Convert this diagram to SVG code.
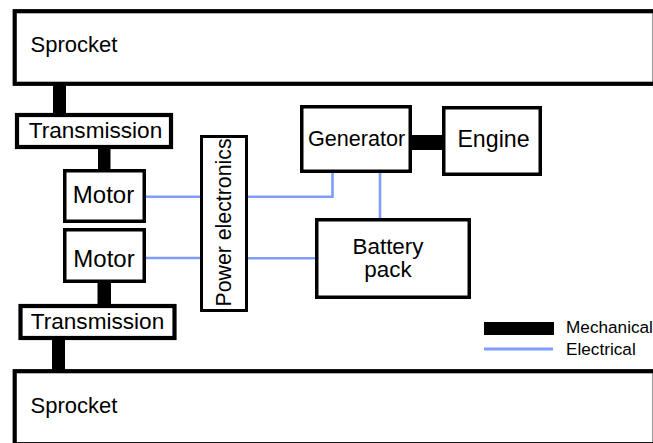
<svg xmlns="http://www.w3.org/2000/svg" width="653" height="443" viewBox="0 0 653 443">
<style>
.box{fill:#fff;stroke:#000;stroke-width:3.5}
.thick{fill:#fff;stroke:#000;stroke-width:4.2}
.mech{fill:#000}
.elec{fill:none;stroke:#7f9cff;stroke-width:2.6}
text{font-family:"Liberation Sans",Arial,sans-serif;fill:#000}
</style>
<rect width="653" height="443" fill="#fff"/>
<g id="connectors">
<rect class="mech" x="53" y="84" width="13" height="30"/>
<rect class="mech" x="98" y="148" width="12.5" height="22"/>
<rect class="mech" x="97.5" y="282" width="13.5" height="23"/>
<rect class="mech" x="52" y="339" width="13" height="31"/>
<rect class="mech" x="411" y="135" width="32" height="15"/>
<polyline class="elec" points="146,196.8 201,196.8"/>
<polyline class="elec" points="146,258 201,258"/>
<polyline class="elec" points="247,196.8 332.5,196.8 332.5,172"/>
<polyline class="elec" points="380,172 380,219"/>
<polyline class="elec" points="247,258.3 317,258.3"/>
</g>
<g id="sprocket-top">
<rect class="thick" x="14.7" y="11.2" width="640" height="72.6"/>
<text x="30.5" y="52" font-size="22">Sprocket</text>
</g>
<g id="transmission-top">
<rect class="thick" x="17" y="115" width="154" height="32"/>
<text x="95.5" y="138.3" font-size="22.6" text-anchor="middle">Transmission</text>
</g>
<g id="motor-top">
<rect class="box" x="64.75" y="170.75" width="79.5" height="50.5"/>
<text x="103.5" y="203.3" font-size="24" text-anchor="middle">Motor</text>
</g>
<g id="motor-bottom">
<rect class="box" x="64.75" y="229.75" width="79.5" height="51.5"/>
<text x="104" y="266.7" font-size="24" text-anchor="middle">Motor</text>
</g>
<g id="transmission-bottom">
<rect class="thick" x="20.5" y="306" width="154" height="32"/>
<text x="97.5" y="329.3" font-size="22.6" text-anchor="middle">Transmission</text>
</g>
<g id="sprocket-bottom">
<rect class="thick" x="14.7" y="371.2" width="640" height="73"/>
<text x="30.5" y="412.5" font-size="22">Sprocket</text>
</g>
<g id="power-electronics">
<rect class="box" x="201.5" y="136.5" width="45" height="174" style="stroke-width:3"/>
<text transform="translate(230.8,222.5) rotate(-90)" font-size="21.3" text-anchor="middle">Power electronics</text>
</g>
<g id="generator">
<rect class="box" x="301.75" y="106.75" width="108.5" height="64.5"/>
<text x="356.5" y="145.5" font-size="21.6" text-anchor="middle">Generator</text>
</g>
<g id="engine">
<rect class="box" x="443.75" y="107.75" width="96.5" height="66.5"/>
<text x="493.5" y="147" font-size="23.2" text-anchor="middle">Engine</text>
</g>
<g id="battery">
<rect class="box" x="316.75" y="219.75" width="152.5" height="77.5"/>
<text x="388" y="254" font-size="22.4" text-anchor="middle">Battery</text>
<text x="388" y="277" font-size="22.4" text-anchor="middle">pack</text>
</g>
<g id="legend">
<rect class="mech" x="484" y="322" width="70" height="13"/>
<line x1="484" y1="349" x2="553" y2="349" stroke="#7f9cff" stroke-width="3"/>
<text x="566" y="333.3" font-size="17.2">Mechanical</text>
<text x="566" y="355" font-size="17.2">Electrical</text>
</g>
</svg>
